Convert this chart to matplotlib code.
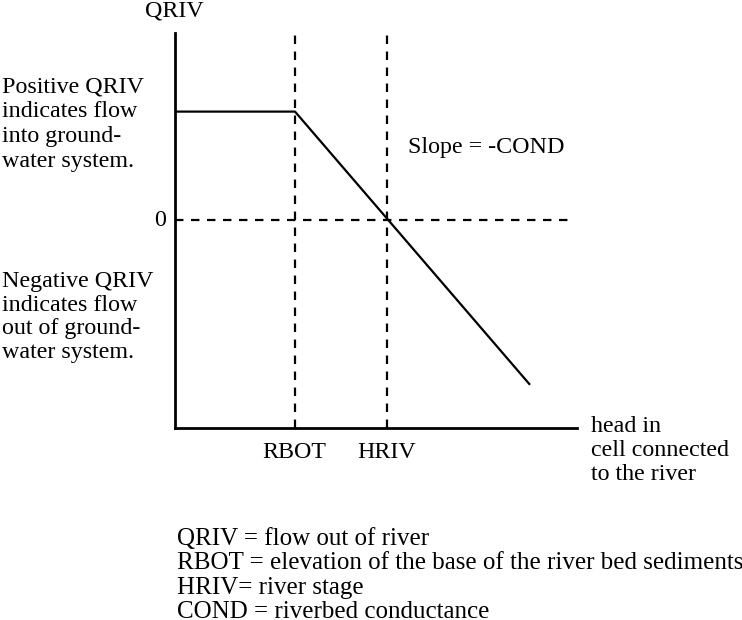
import matplotlib.pyplot as plt

plt.rcParams['font.family'] = ['Liberation Serif', 'DejaVu Serif']

W, H = 742, 620

# diagram values (head along x, QRIV along y)
rbot = 3.0
hriv = 5.3
head = [0.0, 3.0, 8.875]
qriv = [2.71, 2.71, -4.12]
xmax, ymin, ymax = 10.05, -5.2, 4.675
zero_end = 9.95

left_text = ['Positive QRIV', 'indicates flow', 'into ground-', 'water system.']
neg_text = ['Negative QRIV', 'indicates flow', 'out of ground-', 'water system.']
xlabel_lines = ['head in', 'cell connected', 'to the river']
legend_lines = ['QRIV = flow out of river',
                'RBOT = elevation of the base of the river bed sediments',
                'HRIV= river stage',
                'COND = riverbed conductance']

fig = plt.figure(figsize=(W / 100, H / 100), dpi=100)

def px(x, y):
    return x / W, 1 - y / H

# axes box in pixels: left 175, right 577, top 33, bottom 428
ax = fig.add_axes([175 / W, 1 - 428 / H, (577 - 175) / W, (428 - 33) / H])
ax.set_xlim(0, xmax)
ax.set_ylim(ymin, ymax)
ax.spines['top'].set_visible(False)
ax.spines['right'].set_visible(False)
ax.spines['left'].set_linewidth(2.0)
ax.spines['bottom'].set_linewidth(2.0)
ax.set_xticks([])
ax.set_yticks([])
ax.patch.set_alpha(0)

dash = (0, (3.8, 3.4))
ax.plot([rbot, rbot], [ymin, ymax], color='k', lw=1.6, ls=dash)
ax.plot([hriv, hriv], [ymin, ymax], color='k', lw=1.6, ls=dash)
ax.plot([0, zero_end], [0, 0], color='k', lw=1.6, ls=dash)
ax.plot(head, qriv, color='k', lw=1.6, solid_capstyle='butt')

fs = 17.3

def lines_at(x, y0, step, lines, size=fs):
    for i, s in enumerate(lines):
        fig.text(*px(x, y0 + i * step), s, ha='left', va='baseline', fontsize=size)

fig.text(*px(174, 17), 'QRIV', ha='center', va='baseline', fontsize=fs)
fig.text(*px(160, 220), '0', ha='center', va='center', fontsize=fs)
lines_at(2, 93, 24.5, left_text)
lines_at(2, 287, 23.7, neg_text)
fig.text(*px(408, 153), 'Slope = -COND', ha='left', va='baseline', fontsize=fs)
fig.text(*px(294, 458), 'RBOT', ha='center', va='baseline', fontsize=fs)
fig.text(*px(387, 458), 'HRIV', ha='center', va='baseline', fontsize=fs)
lines_at(591, 432, 24.0, xlabel_lines)
lines_at(177, 545, 24.3, legend_lines, size=18)

fig.savefig('out.png', dpi=100)
